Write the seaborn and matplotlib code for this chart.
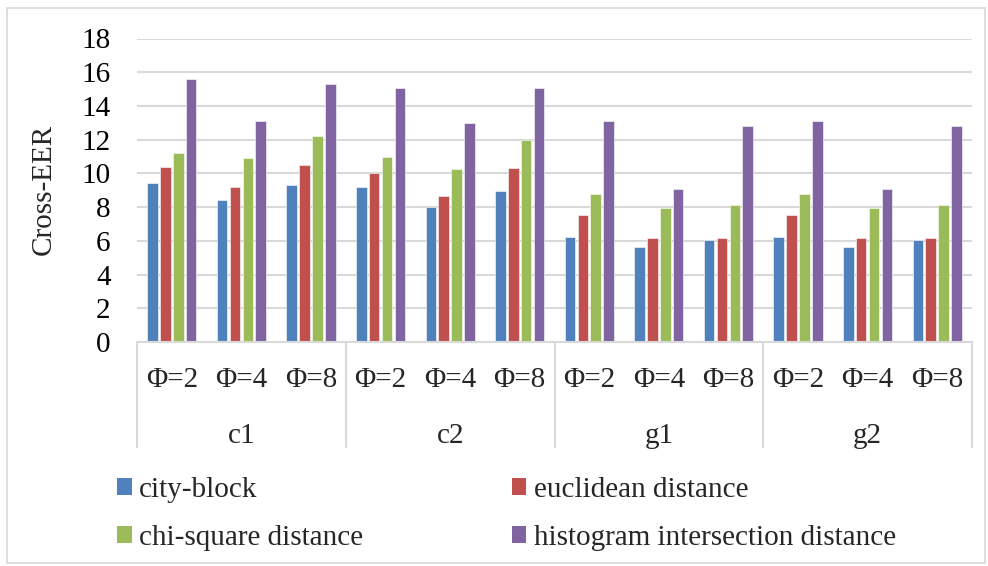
import matplotlib
matplotlib.use("Agg")
import matplotlib.pyplot as plt
import matplotlib.patches as mpatches
import seaborn as sns
import pandas as pd

groups = ["c1", "c2", "g1", "g2"]
phis = ["Φ=2", "Φ=4", "Φ=8"]
methods = ["city-block", "euclidean distance", "chi-square distance",
           "histogram intersection distance"]
colors = ["#4F81BD", "#C0504D", "#9BBB59", "#8064A2"]

# values per method, ordered c1(Φ2,Φ4,Φ8), c2(...), g1(...), g2(...)
city_block = [9.45, 8.45, 9.3, 9.2, 8.0, 8.95, 6.2, 5.65, 6.05, 6.2, 5.65, 6.05]
euclidean = [10.4, 9.2, 10.5, 10.0, 8.65, 10.3, 7.55, 6.15, 6.15, 7.55, 6.15, 6.15]
chi_square = [11.2, 10.9, 12.2, 11.0, 10.25, 12.0, 8.8, 7.95, 8.15, 8.8, 7.95, 8.15]
hist_inter = [15.6, 13.1, 15.3, 15.05, 13.0, 15.05, 13.1, 9.1, 12.8, 13.1, 9.1, 12.8]
series = [city_block, euclidean, chi_square, hist_inter]

rows = []
for m, vals in zip(methods, series):
    i = 0
    for g in groups:
        for p in phis:
            rows.append({"cat": f"{g}|{p}", "group": g, "phi": p,
                         "method": m, "value": vals[i]})
            i += 1
df = pd.DataFrame(rows)
order = [f"{g}|{p}" for g in groups for p in phis]

sns.set_theme(style="white")
plt.rcParams["font.family"] = ["Liberation Serif", "DejaVu Serif"]

FS = 21
W, H = 988, 566
fig = plt.figure(figsize=(W / 100, H / 100), dpi=100)
x0, x1 = 137, 972
y0, y1 = 342, 38.5
ax = fig.add_axes([x0 / W, 1 - y0 / H, (x1 - x0) / W, (y0 - y1) / H])

sns.barplot(data=df, x="cat", y="value", hue="method", order=order,
            hue_order=methods, palette=colors, saturation=1, width=0.74, gap=0.18,
            edgecolor="white", linewidth=0.4, ax=ax, legend=False)

ax.set_ylim(0, 18)
ax.set_xlim(-0.5, len(order) - 0.5)
ax.set_yticks(range(0, 19, 2))
ax.set_yticklabels([str(v) for v in range(0, 19, 2)], fontsize=FS)
ax.yaxis.grid(True, color="#D9D9D9", linewidth=1.5)
ax.set_axisbelow(True)
for s in ["top", "right", "left"]:
    ax.spines[s].set_visible(False)
ax.spines["bottom"].set_color("#D9D9D9")
ax.spines["bottom"].set_linewidth(1.5)
ax.tick_params(axis="y", length=0, pad=19, colors="black")
ax.tick_params(axis="x", length=0, pad=18)
ax.set_xticks(range(len(order)))
ax.set_xticklabels([c.split("|")[1] for c in order], fontsize=FS)
ax.set_xlabel("")
ax.set_ylabel("Cross-EER", fontsize=FS)
ax.yaxis.set_label_coords((57 - x0) / (x1 - x0), (y0 - 189) / (y0 - y1))

axh = y0 - y1
# group labels
for gi, g in enumerate(groups):
    ax.text(gi * 3 + 1, (y0 - 436) / axh, g, fontsize=FS, ha="center",
            va="center", transform=ax.get_xaxis_transform())
# separators
for xs in [-0.5, 2.5, 5.5, 8.5, 11.5]:
    ax.plot([xs, xs], [0, (y0 - 447) / axh], color="#D9D9D9", lw=1.5,
            transform=ax.get_xaxis_transform(), clip_on=False)

# legend
handles = [mpatches.Patch(facecolor=c, edgecolor="none") for c in colors]
lab_order = [0, 2, 1, 3]
leg = fig.legend([handles[i] for i in lab_order], [methods[i] for i in lab_order],
                 ncol=2, loc="upper left", bbox_to_anchor=(117 / W, 1 - 477 / H),
                 frameon=False, fontsize=FS, handlelength=0.5, handleheight=0.5,
                 handletextpad=0.25, columnspacing=5.1, labelspacing=0.75,
                 borderpad=0, borderaxespad=0)

# chart border
fig.patches.append(mpatches.Rectangle((7 / W, 3 / H), (W - 10) / W, (H - 11) / H,
                                      transform=fig.transFigure, fill=False,
                                      edgecolor="#D9D9D9", linewidth=1.2))

fig.savefig("out.png", dpi=100)
